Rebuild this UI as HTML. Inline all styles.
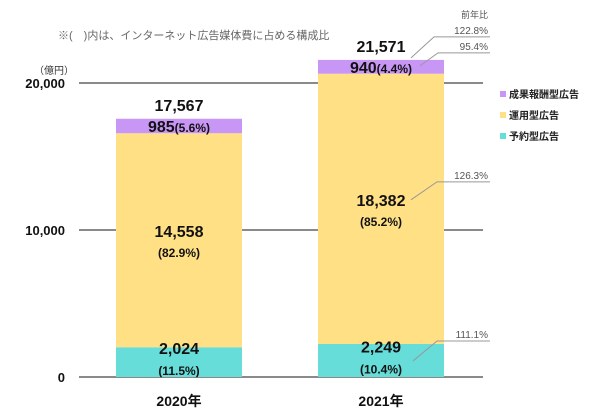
<!DOCTYPE html>
<html><head><meta charset="utf-8"><style>
body{margin:0;background:#fff}
svg{display:block;font-family:"Liberation Sans","Noto Sans CJK JP",sans-serif}
</style></head><body>
<svg id="c" width="600" height="420">
<text x="58" y="39" font-size="11" fill="#666">※(　)内は、インターネット広告媒体費に占める構成比</text>
<text x="34" y="74" font-size="10" fill="#333">（億円）</text>
<text x="488" y="18" text-anchor="end" font-size="9" fill="#555">前年比</text>
</svg>
<script>
const years=["2020年","2021年"];
const reserved=[2024,2249];
const operated=[14558,18382];
const performance=[985,940];
const totals=[17567,21571];
const sharesReserved=["11.5%","10.4%"];
const sharesOperated=["82.9%","85.2%"];
const sharesPerf=["5.6%","4.4%"];
const yTicks=[0,10000,20000];
const yTickLabels=["0","10,000","20,000"];
const yoy=["111.1%","126.3%","122.8%","95.4%"];
const legendNames=["成果報酬型広告","運用型広告","予約型広告"];
const legendColors=["#c896f5","#ffe084","#66ddd9"];

const svg=document.getElementById('c');
const NS="http://www.w3.org/2000/svg";
const y=v=>377-v*294/20000;
const barX=[116,318], bw=126;
function mk(t,a,txt){const e=document.createElementNS(NS,t);for(const k in a)e.setAttribute(k,a[k]);if(txt!=null)e.textContent=txt;svg.appendChild(e);return e;}
yTicks.forEach((t,i)=>{
 const l=mk('line',{x1:79,x2:483,y1:y(t),y2:y(t),stroke:'#444','stroke-width':1.3});
 
 
 const tx=mk('text',{x:65,y:y(t)+5,'text-anchor':'end','font-size':13,'font-weight':'bold',fill:'#111'},yTickLabels[i]);
 
 
});
years.forEach((yr,i)=>{
 const x=barX[i], cx=x+bw/2;
 const b0=y(0), b1=y(reserved[i]), b2=y(reserved[i]+operated[i]), b3=y(reserved[i]+operated[i]+performance[i]);
 let r=mk('rect',{x:x,y:b1,width:bw,height:b0-b1,fill:'#66ddd9'});
 
 
 r=mk('rect',{x:x,y:b2,width:bw,height:b1-b2,fill:'#ffe084'});
 
 
 r=mk('rect',{x:x,y:b3,width:bw,height:b2-b3,fill:'#c896f5'});
 
 
 const m=(a,b)=>(a+b)/2;
 let t=mk('text',{x:cx,y:m(b0,b1)-8,'text-anchor':'middle','font-size':16,'font-weight':'bold',fill:'#111'},reserved[i].toLocaleString('en-US'));
 
 
 t=mk('text',{x:cx,y:m(b0,b1)+13,'text-anchor':'middle','font-size':12,'font-weight':'bold',fill:'#111'},'('+sharesReserved[i]+')');
 
 
 t=mk('text',{x:cx,y:m(b1,b2)-3,'text-anchor':'middle','font-size':16,'font-weight':'bold',fill:'#111'},operated[i].toLocaleString('en-US'));
 
 
 t=mk('text',{x:cx,y:m(b1,b2)+17,'text-anchor':'middle','font-size':12,'font-weight':'bold',fill:'#111'},'('+sharesOperated[i]+')');
 
 
 t=mk('text',{x:cx,y:m(b2,b3)+6,'text-anchor':'middle','font-weight':'bold',fill:'#111'});
 t.innerHTML='<tspan font-size="16">'+performance[i]+'</tspan><tspan font-size="12">('+sharesPerf[i]+')</tspan>';
 
 
 t=mk('text',{x:cx,y:b3-8,'text-anchor':'middle','font-size':16,'font-weight':'bold',fill:'#111'},totals[i].toLocaleString('en-US'));
 
 
 t=mk('text',{x:cx,y:406,'text-anchor':'middle','font-size':14,'font-weight':'bold',fill:'#111'},yr);
 
 
});
// callouts (2021)
const i=1;
const b1=y(reserved[i]), b2=y(reserved[i]+operated[i]), b3=y(reserved[i]+operated[i]+performance[i]);
const mo=(b1+b2)/2;
const callouts=[
 {pts:[[413,b1+17],[437,b1-3],[490,b1-3]],label:yoy[0]},
 {pts:[[411,mo-9],[437,mo-27],[490,mo-27]],label:yoy[1]},
 {pts:[[411,b3-2],[434,b3-23],[490,b3-23]],label:yoy[2]},
 {pts:[[420,b3+6],[438,b3-7],[490,b3-7]],label:yoy[3]}
];
callouts.forEach((c,k)=>{
 const p=mk('polyline',{points:c.pts.map(q=>q.join(',')).join(' '),fill:'none',stroke:'#999','stroke-width':1});
 
 
 const t=mk('text',{x:488,y:c.pts[2][1]-3,'text-anchor':'end','font-size':10,fill:'#555'},c.label);
 
 
});
legendNames.forEach((n,k)=>{
 const ly=95+k*21;
 const r=mk('rect',{x:500,y:ly-4,width:6,height:6,fill:legendColors[k]});
 
 
 const t=mk('text',{x:509,y:ly+3,'font-size':10,'font-weight':'bold',fill:'#222'},n);
 
 
});
</script>
</body></html>
